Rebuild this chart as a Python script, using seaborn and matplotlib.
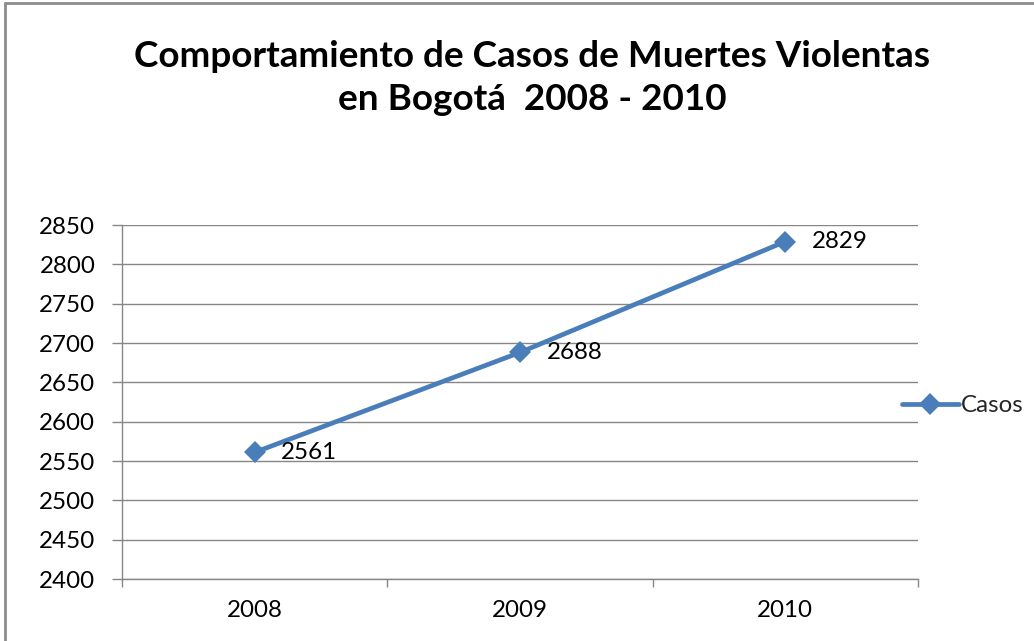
import matplotlib
matplotlib.use("Agg")
import matplotlib.pyplot as plt
from matplotlib.lines import Line2D
import seaborn as sns
import pandas as pd

years = ["2008", "2009", "2010"]
casos = [2561, 2688, 2829]
yticks = [2400, 2450, 2500, 2550, 2600, 2650, 2700, 2750, 2800, 2850]
title = "Comportamiento de Casos de Muertes Violentas\nen Bogotá  2008 - 2010"
series_name = "Casos"

sns.set_theme(style="white")
plt.rcParams['font.family'] = ['Lato', 'DejaVu Sans']

df = pd.DataFrame({"year": years, "casos": casos})

fig = plt.figure(figsize=(10.34, 6.41), dpi=100)
ax = fig.add_axes([122/1034, 1 - 579/641, (918-122)/1034, (579-225)/641])

color = "#4A7EBB"
sns.lineplot(data=df, x="year", y="casos", ax=ax, color=color, linewidth=3.4,
             marker="D", markersize=11, markeredgewidth=0, label=series_name,
             sort=False)

ax.set_xlim(-0.5, 2.5)
ax.set_ylim(2400, 2850)
ax.set_yticks(yticks)
ax.set_xticks(range(len(years)))
ax.set_xticklabels(years)
ax.set_xticks([-0.5, 0.5, 1.5, 2.5], minor=True)
ax.set_xlabel("")
ax.set_ylabel("")

gray = "#868686"
ax.yaxis.grid(True, color=gray, linewidth=1)
ax.xaxis.grid(False)
for s in ["top", "right"]:
    ax.spines[s].set_visible(False)
for s in ["left", "bottom"]:
    ax.spines[s].set_color(gray)
    ax.spines[s].set_linewidth(1)

ax.tick_params(axis="y", which="major", left=True, length=7.2, width=1, color=gray,
               pad=12, labelsize=17.4, labelcolor="#000000")
ax.tick_params(axis="x", which="major", bottom=False, length=0, pad=15,
               labelsize=17.4, labelcolor="#000000")
ax.tick_params(axis="x", which="minor", bottom=True, length=6, width=1, color=gray)

for i, v in enumerate(casos):
    ax.annotate(str(v), xy=(i, v), xytext=(19, 0), textcoords="offset points",
                ha="left", va="center", fontsize=17.4, color="#000000")

fig.text(532/1034, 1 - 78/641, title, ha="center", va="center",
         fontsize=26.6, fontweight="bold", linespacing=1.4, color="#000000")

leg = ax.legend(loc="center left", bbox_to_anchor=(902/1034, 1 - 406/641),
                bbox_transform=fig.transFigure, frameon=False, fontsize=17.4,
                handlelength=2.35, handletextpad=0.1, borderaxespad=0, borderpad=0)

fig.add_artist(Line2D([5/1034, 5/1034], [0, 1 - 3/641], transform=fig.transFigure,
                      color="#8c8c8c", linewidth=2))
fig.add_artist(Line2D([5/1034, 1], [1 - 3/641, 1 - 3/641], transform=fig.transFigure,
                      color="#8c8c8c", linewidth=2))

fig.savefig("out.png", dpi=100, facecolor="white")
